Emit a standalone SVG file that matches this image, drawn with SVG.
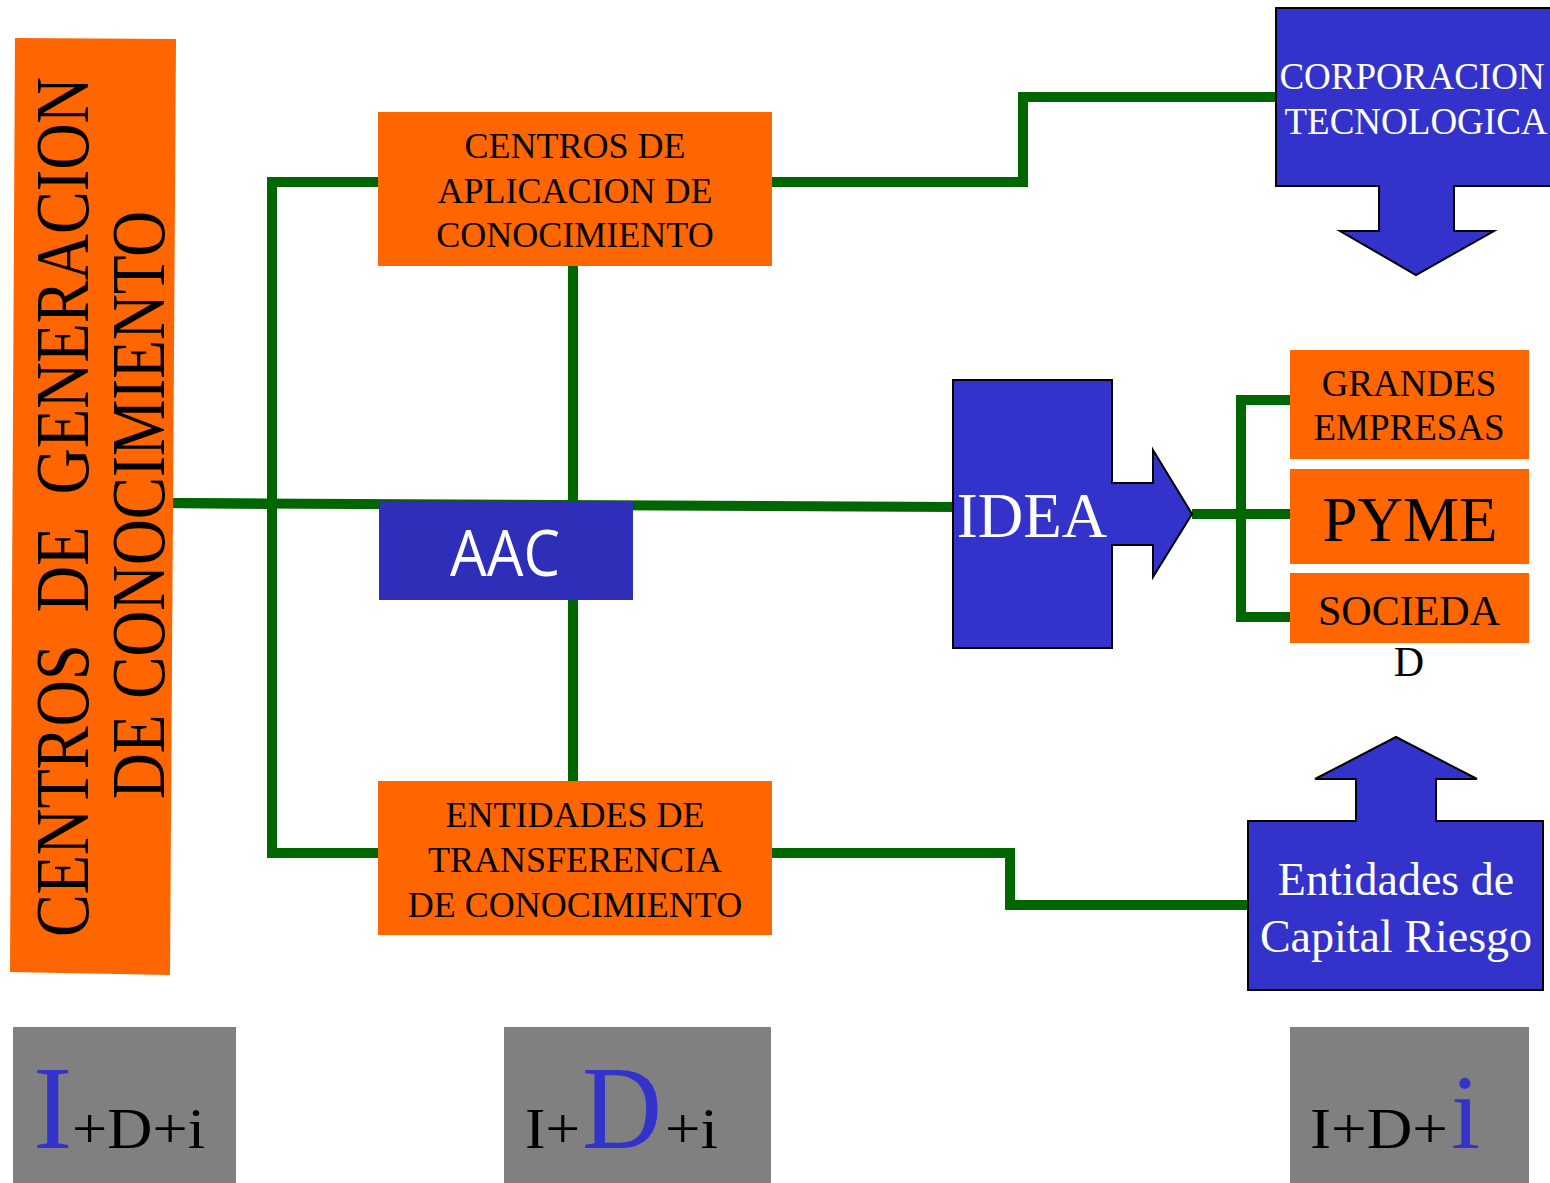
<svg xmlns="http://www.w3.org/2000/svg" width="1550" height="1183" viewBox="0 0 1550 1183">
<style>
.or{fill:#FF6600}
.bl{fill:#3333CC;stroke:#000;stroke-width:2}
.gr{fill:#808080}
.ln{fill:none;stroke:#006600;stroke-width:10}
.t{font-family:"Liberation Serif","Times New Roman",serif;text-anchor:middle;fill:#000}
.s{font-family:"Liberation Serif","Times New Roman",serif;fill:#000}
.w{fill:#fff}
.bt{fill:#3333CC}
</style>
<rect width="1550" height="1183" fill="#fff"/>
<g id="connectors">
<polyline class="ln" points="165,503 955,507"/>
<line class="ln" x1="165" y1="503" x2="272" y2="504" stroke-width="16"/>
<polyline class="ln" points="378,182 272,182 272,853 378,853"/>
<line class="ln" x1="573" y1="255" x2="573" y2="505"/>
<line class="ln" x1="573" y1="598" x2="573" y2="782"/>
<polyline class="ln" points="772,182 1023,182 1023,97 1277,97"/>
<polyline class="ln" points="772,853 1010,853 1010,905 1249,905"/>
<line class="ln" x1="1192" y1="514" x2="1291" y2="514"/>
<polyline class="ln" points="1291,400 1241,400 1241,617 1291,617"/>
</g>
<g id="centros-generacion">
<polygon class="or" points="15,38 176,39 170,975 10,972"/>
<text class="t" transform="translate(88,507) rotate(-90) scale(1,1.19)" font-size="64" textLength="860" lengthAdjust="spacingAndGlyphs" style="white-space:pre">CENTROS  DE  GENERACION</text>
<text class="t" transform="translate(164,505) rotate(-90) scale(1,1.2)" font-size="63" textLength="588" lengthAdjust="spacingAndGlyphs">DE CONOCIMIENTO</text>
</g>
<g id="centros-aplicacion">
<rect class="or" x="378" y="112" width="394" height="154"/>
<text class="t" font-size="36" x="575" y="158">CENTROS DE</text>
<text class="t" font-size="36" x="575" y="203">APLICACION DE</text>
<text class="t" font-size="36" x="575" y="247">CONOCIMIENTO</text>
</g>
<g id="aac">
<rect x="379" y="502" width="254" height="98" fill="#2E2EB8"/>
<text x="505" y="576" font-family="'Open Sans','DejaVu Sans',sans-serif" font-size="64" fill="#fff" text-anchor="middle" textLength="110" lengthAdjust="spacingAndGlyphs">AAC</text>
</g>
<g id="entidades-transferencia">
<rect class="or" x="378" y="781" width="394" height="154"/>
<text class="t" font-size="36" x="575" y="827">ENTIDADES DE</text>
<text class="t" font-size="36" x="575" y="872">TRANSFERENCIA</text>
<text class="t" font-size="36" x="575" y="917">DE CONOCIMIENTO</text>
</g>
<g id="corporacion">
<polygon class="bl" points="1276,8 1552,8 1552,186 1454,186 1454,231 1494,231 1416,275 1340,231 1379,231 1379,186 1276,186"/>
<text class="t w" font-size="37" x="1412" y="89">CORPORACION</text>
<text class="t w" font-size="37" x="1416" y="134">TECNOLOGICA</text>
</g>
<g id="idea">
<polygon class="bl" points="953,380 1112,380 1112,483 1153,483 1153,450 1192,514 1153,577 1153,545 1112,545 1112,648 953,648"/>
<text class="t w" font-size="63" x="1032" y="537">IDEA</text>
</g>
<g id="grandes">
<rect class="or" x="1290" y="350" width="239" height="109"/>
<text class="t" font-size="37" x="1409" y="396">GRANDES</text>
<text class="t" font-size="37" x="1409" y="440">EMPRESAS</text>
</g>
<g id="pyme">
<rect class="or" x="1290" y="469" width="239" height="95"/>
<text class="t" font-size="63" x="1410" y="541">PYME</text>
</g>
<g id="sociedad">
<rect class="or" x="1290" y="573" width="239" height="70"/>
<text class="t" font-size="42" x="1409" y="625">SOCIEDA</text>
<text class="t" font-size="42" x="1409" y="676">D</text>
</g>
<g id="capital-riesgo">
<polygon class="bl" points="1248,821 1356,821 1356,779 1315,779 1396,737 1477,779 1436,779 1436,821 1543,821 1543,990 1248,990"/>
<text class="t w" font-size="46" x="1396" y="895">Entidades de</text>
<text class="t w" font-size="46" x="1396" y="952">Capital Riesgo</text>
</g>
<g id="idi-1">
<rect class="gr" x="13" y="1027" width="223" height="156"/>
<text class="s bt" x="33" y="1148" font-size="118">I</text>
<text class="s" x="72" y="1148" font-size="58" textLength="133" lengthAdjust="spacingAndGlyphs">+D+i</text>
</g>
<g id="idi-2">
<rect class="gr" x="504" y="1027" width="267" height="156"/>
<text class="s" x="525" y="1148" font-size="58" textLength="55" lengthAdjust="spacingAndGlyphs">I+</text>
<text class="s bt" x="582" y="1148" font-size="118" textLength="80" lengthAdjust="spacingAndGlyphs">D</text>
<text class="s" x="665" y="1148" font-size="58" textLength="53" lengthAdjust="spacingAndGlyphs">+i</text>
</g>
<g id="idi-3">
<rect class="gr" x="1290" y="1027" width="239" height="156"/>
<text class="s" x="1310" y="1148" font-size="58" textLength="138" lengthAdjust="spacingAndGlyphs">I+D+</text>
<text class="s bt" x="1451" y="1148" font-size="105">i</text>
</g>
</svg>
